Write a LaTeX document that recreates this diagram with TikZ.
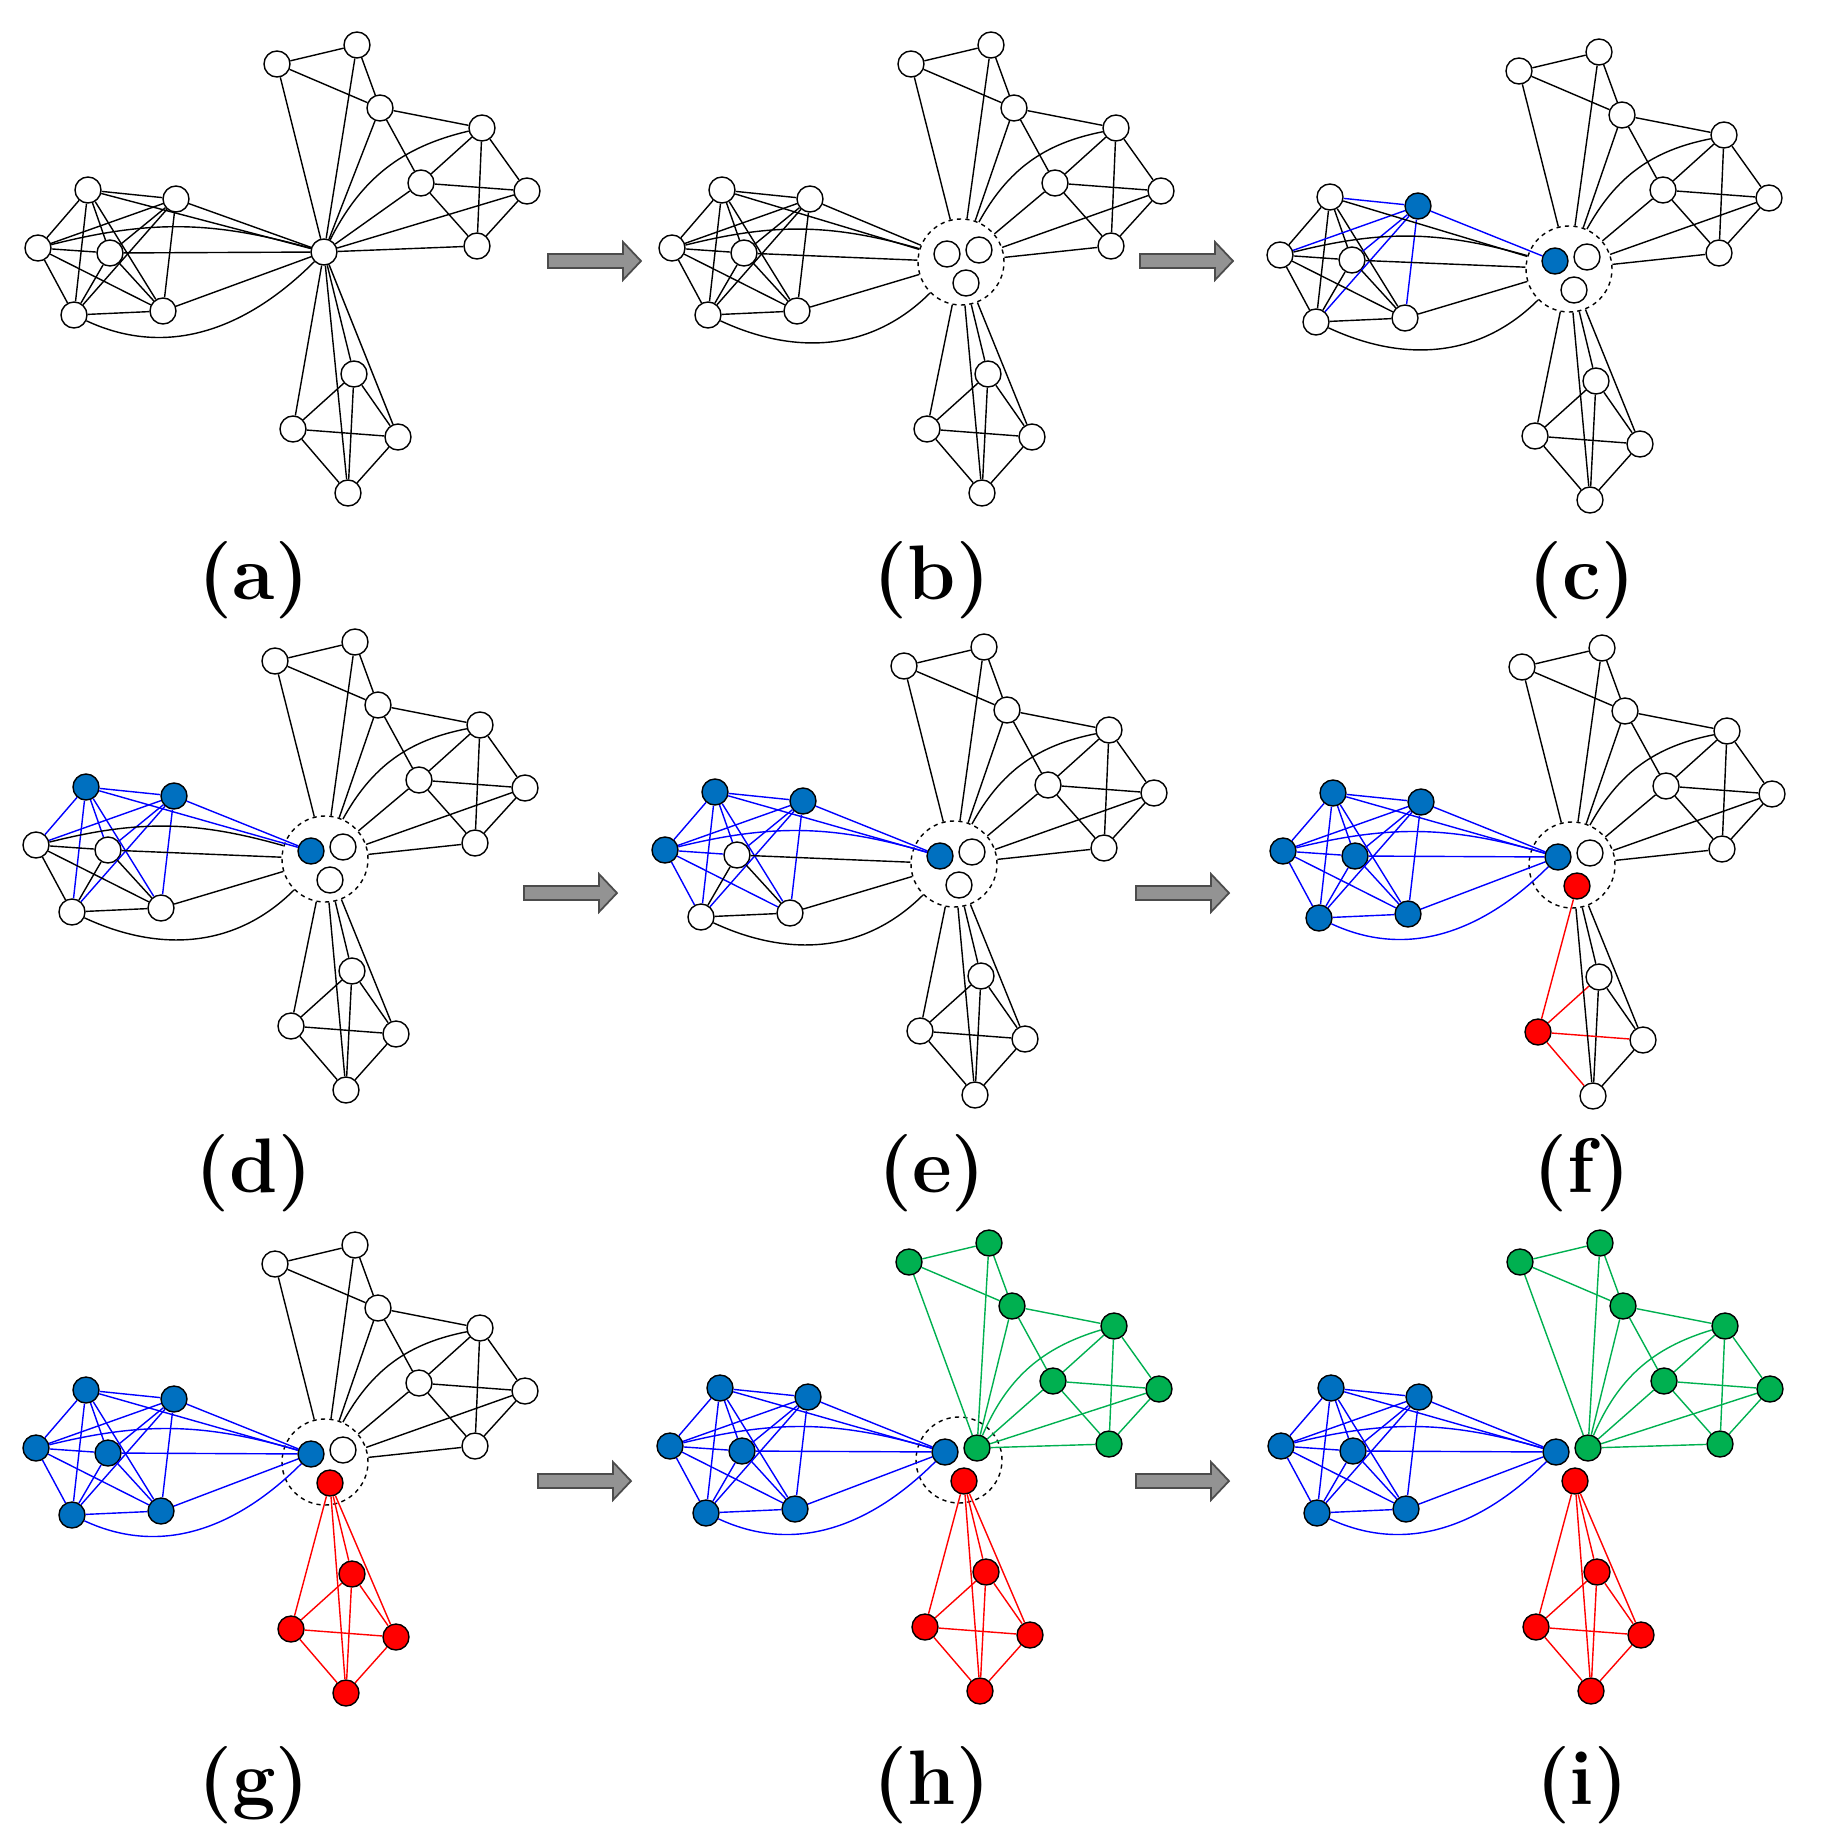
\documentclass[tikz,border=0pt]{standalone}
\usepackage{tikz}

\definecolor{nf-w}{RGB}{255,255,255}
\definecolor{nf-b}{RGB}{0,112,192}
\definecolor{nf-r}{RGB}{255,0,0}
\definecolor{nf-g}{RGB}{0,176,80}
\definecolor{ed-w}{RGB}{0,0,0}
\definecolor{ed-b}{RGB}{0,0,255}
\definecolor{ed-r}{RGB}{255,0,0}
\definecolor{ed-g}{RGB}{0,176,80}

\tikzset{
    vert/.style={shape=circle, draw=black, line width=0.4pt, minimum size=2.6mm, inner sep=0pt},
    group/.style={shape=circle, draw=black, dash pattern=on 1.2pt off 1.2pt, line width=0.4pt, minimum size=8.6mm, inner sep=0pt},
    link/.style={line width=0.4pt},
    step arrow/.style={fill=gray!85, draw=black!70, line width=0.5pt},
    caption/.style={font=\fontsize{22}{26}\selectfont\bfseries}
}

% colour class of every vertex: w, b, r, g
\newcommand\setcol[2]{\expandafter\gdef\csname col@#1\endcsname{#2}}
\newcommand\paintall[2]{\foreach \n in {#1} {\setcol{\n}{#2}}}
\def\colw{w}

\newcommand\lnk[3][]{%
    \edef\ca{\csname col@#2\endcsname}\edef\cb{\csname col@#3\endcsname}%
    \ifx\ca\colw\let\ce\cb\else\let\ce\ca\fi
    \path[link, color=ed-\ce, #1] (\pn-#2) edge (\pn-#3);}

\newcommand\hub[3][]{%
    \edef\ca{\csname col@#2\endcsname}%
    \ifx\ca\colw\path[link, color=ed-w, #1] (\pn-#2) edge (\pn-\hubw);%
    \else\path[link, color=ed-\ca, #1] (\pn-#2) edge (\pn-#3);\fi}

\newcommand\netpanel[3]{%
    \def\pn{#1}
    \begin{scope}[shift={(#2,-#3)}]
    \foreach \n/\x/\y in {L1/88/190,L2/176/199,L3/38/248,L4/110/253,L5/74/315,L6/163/311,
        T1/277/64,T2/357/45,T3/380/108,R1/482/128,R2/421/183,R3/527/191,R4/477/246,
        B1/354/374,B2/293/429,B3/398/437,B4/348/493}
        {\edef\c{\csname col@\n\endcsname}\node[vert, fill=nf-\c] (#1-\n) at (\x,-\y) {};}
    \ifcase\grpmode\relax
        \node[vert] (#1-C) at (324,-252) {}; \def\hubw{C}
    \or
        \node[group] (#1-G) at (327,-262) {}; \def\hubw{G}
    \fi
    \ifnum\grpmode>0
        \foreach \n/\x/\y in {N1/313/254,N2/345/250,N3/332/283}
            {\edef\c{\csname col@\n\endcsname}\node[vert, fill=nf-\c] (#1-\n) at (\x,-\y) {};}
    \fi
    % left cluster
    \lnk{L1}{L2} \lnk{L1}{L3} \lnk{L1}{L4} \lnk{L1}{L5} \lnk{L1}{L6}
    \lnk{L2}{L3} \lnk{L2}{L4} \lnk{L2}{L5} \lnk{L2}{L6}
    \lnk{L3}{L4} \lnk{L3}{L5} \lnk{L3}{L6}
    \lnk{L4}{L5} \lnk{L4}{L6} \lnk{L5}{L6}
    \hub{L1}{N1} \hub{L2}{N1} \hub[bend left=15]{L3}{N1}
    \hub{L4}{N1} \hub[out=-25, in=225]{L5}{N1} \hub{L6}{N1}
    % top and right clusters
    \lnk{T1}{T2} \lnk{T1}{T3} \lnk{T2}{T3} \lnk{T3}{R1} \lnk{T3}{R2}
    \hub{T1}{N2} \hub{T2}{N2} \hub{T3}{N2}
    \lnk{R1}{R2} \lnk{R1}{R3} \lnk{R1}{R4} \lnk{R2}{R3} \lnk{R2}{R4} \lnk{R3}{R4}
    \hub[bend right=25]{R1}{N2} \hub{R2}{N2} \hub{R3}{N2} \hub{R4}{N2}
    % bottom cluster
    \lnk{B1}{B2} \lnk{B1}{B3} \lnk{B1}{B4} \lnk{B2}{B3} \lnk{B2}{B4} \lnk{B3}{B4}
    \hub{B1}{N3} \hub{B2}{N3} \hub{B3}{N3} \hub{B4}{N3}
    \end{scope}}

\newcommand\steparrow[2]{%
    \draw[step arrow] (#1,-#2+7) -- ++(75,0) -- ++(0,12) -- ++(18,-19) -- ++(-18,-19) -- ++(0,12) -- ++(-75,0) -- cycle;}

\begin{document}
\begin{tikzpicture}[x=0.1mm, y=0.1mm]
    \useasboundingbox (0,0) rectangle (1827,-1840);

    \paintall{L1,L2,L3,L4,L5,L6,T1,T2,T3,R1,R2,R3,R4,B1,B2,B3,B4,N1,N2,N3}{w}
    \def\grpmode{0}
    \netpanel{a}{0}{0}
    \def\grpmode{1}
    \netpanel{b}{634}{0}
    \paintall{L2,N1}{b}
    \netpanel{c}{1242}{7}
    \paintall{L1}{b}
    \netpanel{d}{-2}{597}
    \paintall{L3}{b}
    \netpanel{e}{627}{602}
    \paintall{L4,L5,L6}{b}
    \paintall{N3,B2}{r}
    \netpanel{f}{1245}{603}
    \paintall{B1,B3,B4}{r}
    \netpanel{g}{-2}{1200}
    \paintall{T1,T2,T3,R1,R2,R3,R4,N2}{g}
    \netpanel{h}{632}{1198}
    \def\grpmode{2}
    \netpanel{i}{1243}{1198}

    \steparrow{548}{261}
    \steparrow{1140}{261}
    \steparrow{524}{893}
    \steparrow{1136}{893}
    \steparrow{538}{1481}
    \steparrow{1136}{1481}

    \node[caption] (lab-a) at (254,-580) {(a)};
    \node[caption] (lab-b) at (932,-580) {(b)};
    \node[caption] (lab-c) at (1582,-580) {(c)};
    \node[caption] (lab-d) at (254,-1173) {(d)};
    \node[caption] (lab-e) at (932,-1173) {(e)};
    \node[caption] (lab-f) at (1582,-1173) {(f)};
    \node[caption] (lab-g) at (254,-1785) {(g)};
    \node[caption] (lab-h) at (932,-1785) {(h)};
    \node[caption] (lab-i) at (1582,-1785) {(i)};
\end{tikzpicture}
\end{document}
